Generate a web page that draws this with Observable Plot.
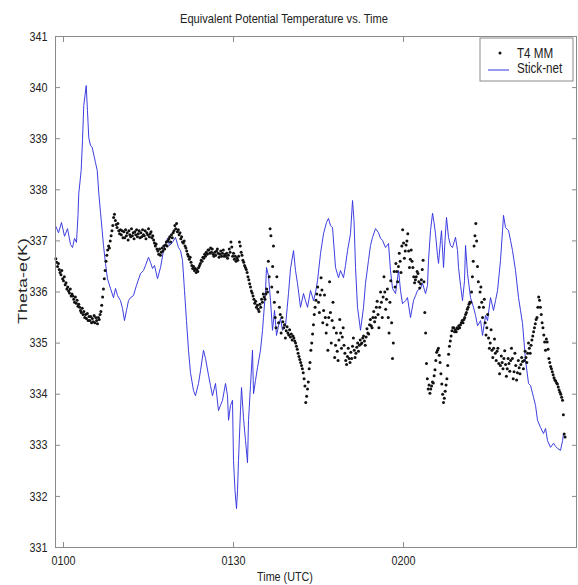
<!DOCTYPE html>
<html>
<head>
<meta charset="utf-8">
<script src="https://cdn.jsdelivr.net/npm/d3@7"></script>
<script src="https://cdn.jsdelivr.net/npm/@observablehq/plot@0.6"></script>
<style>
  html, body { margin: 0; padding: 0; background: #fff; }
  #chart { width: 578px; height: 585px; }
</style>
</head>
<body>
<div id="chart"></div>
<script>
// ---- Data (minutes after 01:00 UTC, theta-e in K) ----
const chartTitle = "Equivalent Potential Temperature vs. Time";
const xLabel = "Time (UTC)";
const yLabel = "Theta-e(K)";
const seriesNames = ["T4 MM", "Stick-net"];

const xTickMinutes = [0, 30, 60];
const xTickLabels = ["0100", "0130", "0200"];
const yTicks = [331, 332, 333, 334, 335, 336, 337, 338, 339, 340, 341];

// T4 mobile mesonet: sampled every 0.15 min starting at -1.35 min
const t4Start = -1.35;
const t4Step = 0.15;
const t4Theta = [
  336.65, 336.58, 336.5, 336.56, 336.44, 336.38, 336.34, 336.42, 336.26, 336.22, 336.3, 336.14, 336.18, 336.06, 336.1, 336.02, 335.98, 336.06, 335.92, 335.96,
  335.92, 335.86, 335.8, 335.9, 335.78, 335.84, 335.72, 335.76, 335.7, 335.64, 335.6, 335.68, 335.56, 335.62, 335.5, 335.56, 335.48, 335.58, 335.44, 335.52,
  335.44, 335.52, 335.4, 335.48, 335.42, 335.54, 335.4, 335.5, 335.44, 335.38, 335.5, 335.46, 335.56, 335.62, 335.74, 335.9, 336.06, 336.26, 336.42, 336.6,
  336.72, 336.82, 336.9, 336.86, 337.0, 337.1, 337.2, 337.3, 337.46, 337.52, 337.4, 337.32, 337.26, 337.34, 337.2, 337.14, 337.22, 337.12, 337.2, 337.06,
  337.18, 337.06, 337.22, 337.1, 337.16, 337.02, 337.2, 337.12, 337.08, 337.24, 337.1, 337.16, 337.04, 337.18, 337.12, 337.22, 337.08, 337.14, 337.2, 337.06,
  337.16, 337.08, 337.22, 337.12, 337.1, 337.2, 337.04, 337.16, 337.12, 337.24, 337.08, 337.14, 337.18, 337.06, 337.1, 337.02, 336.96, 336.9, 336.94, 336.84,
  336.8, 336.74, 336.84, 336.72, 336.78, 336.86, 336.8, 336.9, 336.84, 336.92, 336.98, 336.9, 337.0, 337.04, 337.08, 336.98, 337.12, 337.06, 337.16, 337.2,
  337.3, 337.24, 337.34, 337.18, 337.22, 337.12, 337.16, 337.04, 337.08, 336.98, 336.96, 337.0, 336.9, 336.86, 336.8, 336.74, 336.7, 336.64, 336.68, 336.58,
  336.52, 336.46, 336.5, 336.42, 336.46, 336.38, 336.44, 336.4, 336.48, 336.52, 336.56, 336.62, 336.6, 336.68, 336.66, 336.74, 336.7, 336.78, 336.74, 336.82,
  336.82, 336.76, 336.86, 336.78, 336.84, 336.74, 336.7, 336.78, 336.72, 336.8, 336.84, 336.76, 336.68, 336.74, 336.8, 336.7, 336.76, 336.82, 336.7, 336.74,
  336.7, 336.76, 336.66, 336.72, 336.84, 336.78, 336.98, 336.88, 336.7, 336.76, 336.64, 336.7, 336.6, 336.66, 336.62, 336.7, 336.98, 336.9, 336.78, 336.72,
  336.62, 336.58, 336.52, 336.48, 336.44, 336.38, 336.3, 336.24, 336.16, 336.1, 336.02, 335.98, 335.92, 335.86, 335.78, 335.82, 335.7, 335.74, 335.66, 335.62,
  335.76, 335.7, 335.86, 335.8, 335.96, 335.9, 335.86, 335.96, 336.06, 336.0, 336.6, 336.3, 337.24, 337.1, 336.1, 336.5, 336.9, 335.8, 335.5, 335.3,
  336.3, 336.0, 335.4, 335.7, 335.56, 335.2, 335.5, 335.42, 335.3, 335.36, 335.1, 335.24, 335.32, 335.2, 335.16, 335.26, 335.12, 335.18, 335.06, 335.14,
  335.1, 335.04, 335.0, 334.94, 334.88, 334.8, 334.74, 334.68, 334.62, 334.56, 334.5, 334.42, 334.3, 334.16, 333.84, 333.96, 334.1, 334.24, 334.5, 334.62,
  334.86, 335.0, 335.18, 335.36, 335.56, 335.7, 335.84, 335.96, 336.1, 335.8, 335.6, 335.94, 336.28, 336.04, 335.4, 335.64, 335.94, 335.5, 335.2, 335.36,
  334.86, 335.5, 336.2, 335.6, 335.0, 335.44, 335.8, 335.3, 334.72, 334.96, 335.2, 334.84, 334.66, 335.06, 335.46, 335.2, 334.9, 335.12, 335.3, 334.96,
  334.8, 334.66, 334.58, 334.74, 334.9, 334.7, 334.62, 334.82, 334.7, 334.94, 335.1, 334.86, 334.72, 334.8, 334.92, 335.0, 334.84, 334.96, 335.06, 334.98,
  335.0, 335.1, 335.14, 335.04, 334.96, 335.12, 335.28, 335.2, 335.18, 335.36, 335.46, 335.34, 335.3, 335.5, 335.62, 335.42, 335.5, 335.7, 335.82, 335.56,
  335.3, 335.7, 336.0, 335.8, 335.5, 335.9, 336.3, 336.0, 335.66, 335.86, 336.06, 335.5, 335.2, 335.8, 336.22, 335.4, 334.7, 335.0, 336.4, 336.1,
  336.56, 336.4, 336.2, 336.5, 336.76, 336.6, 336.38, 336.9, 337.22, 336.96, 336.66, 336.8, 336.92, 337.0, 337.14, 336.8, 336.48, 336.64, 336.82, 336.6,
  336.48, 336.3, 336.18, 336.24, 336.3, 336.4, 336.36, 336.2, 336.08, 336.16, 336.24, 336.44, 336.62, 336.2, 335.6, 335.2, 334.6, 334.3, 334.1, 334.18,
  334.02, 334.1, 334.16, 334.24, 334.22, 334.36, 334.48, 334.66, 334.82, 334.86, 334.9, 334.76, 334.62, 334.4, 334.2, 334.0, 333.84, 333.92, 334.06, 334.18,
  334.3, 334.56, 334.78, 334.94, 335.04, 335.14, 335.24, 335.3, 335.3, 335.22, 335.26, 335.22, 335.3, 335.28, 335.34, 335.3, 335.36, 335.4, 335.44, 335.4,
  335.46, 335.5, 335.56, 335.6, 335.66, 335.7, 335.76, 335.8, 335.8, 336.0, 336.3, 336.6, 336.9, 337.1, 337.34, 337.0, 336.5, 336.2, 335.7, 336.0,
  336.1, 335.8, 335.5, 335.7, 335.86, 335.4, 335.16, 335.3, 335.56, 335.1, 334.9, 335.0, 335.26, 334.86, 334.72, 334.9, 335.08, 334.8, 334.66, 334.84,
  334.9, 334.6, 334.4, 334.56, 334.75, 334.62, 334.5, 334.7, 334.85, 334.58, 334.35, 334.5, 334.7, 334.6, 334.45, 334.66, 334.9, 334.7, 334.3, 334.44,
  334.8, 334.56, 334.28, 334.42, 334.66, 334.52, 334.4, 334.58, 334.72, 334.64, 334.5, 334.66, 334.84, 334.72, 334.62, 334.8, 335.0, 334.9, 334.8, 334.96,
  335.06, 335.14, 335.22, 335.3, 335.38, 335.46, 335.5, 335.7, 335.9, 335.84, 335.7, 335.56, 335.4, 335.3, 335.16, 335.02, 334.86, 335.08, 335.02, 334.88,
  334.7, 334.62, 334.54, 334.5, 334.44, 334.38, 334.32, 334.28, 334.26, 334.22, 334.2, 334.14, 334.08, 334.04, 334.0, 333.94, 333.88, 333.6, 333.22, 333.16
];

// Stick-net: time (min after 01:00) and theta-e
const stickTime = [
  -1.41, -0.88, -0.35, 0.18, 0.71, 1.24, 1.59, 1.94, 2.29, 2.56,
  2.70, 3.12, 3.35, 3.58, 4.01, 4.23, 4.46, 4.76, 5.06, 5.38,
  5.65, 5.95, 6.23, 6.53, 6.83, 7.06, 7.41, 7.76, 8.29, 8.82,
  9.18, 9.53, 10.06, 10.41, 10.76, 11.12, 11.47, 11.82, 12.35, 12.88,
  13.59, 14.12, 14.47, 15.0, 15.35, 15.71, 16.06, 16.59, 17.12, 17.65,
  18.0, 18.35, 18.71, 19.23, 19.76, 20.29, 20.65, 21.0, 21.35, 21.7,
  22.06, 22.41, 22.94, 23.29, 23.82, 24.18, 24.7, 25.06, 25.59, 25.94,
  26.29, 26.82, 27.35, 27.7, 28.06, 28.59, 28.94, 29.12, 29.47, 29.82,
  30.0, 30.26, 30.53, 30.71, 30.88, 31.23, 31.41, 31.76, 32.12, 32.47,
  32.65, 33.0, 33.35, 33.53, 33.88, 34.23, 34.76, 35.12, 35.29, 35.65,
  35.82, 36.17, 36.53, 36.88, 37.24, 37.59, 37.94, 38.29, 38.65, 39.18,
  39.7, 40.06, 40.59, 40.94, 41.29, 41.82, 42.35, 42.7, 43.06, 43.59,
  44.12, 44.47, 44.82, 45.35, 45.88, 46.41, 46.76, 47.12, 47.47, 48.0,
  48.53, 48.88, 49.41, 49.76, 50.12, 50.64, 51.0, 51.26, 51.53, 51.88,
  52.41, 52.94, 53.29, 53.82, 54.17, 54.53, 55.06, 55.59, 55.94, 56.29,
  56.82, 57.35, 57.7, 58.06, 58.59, 59.12, 59.47, 59.82, 60.35, 60.7,
  61.23, 61.76, 62.12, 62.47, 63.0, 63.35, 63.88, 64.23, 64.41, 64.76,
  65.12, 65.38, 65.64, 66.0, 66.17, 66.53, 66.7, 67.06, 67.32, 67.58,
  67.94, 68.29, 68.64, 69.17, 69.53, 69.7, 70.06, 70.41, 70.76, 70.94,
  71.29, 71.82, 72.35, 72.71, 73.06, 73.59, 73.94, 74.47, 74.82, 75.35,
  75.88, 76.23, 76.59, 77.11, 77.47, 77.64, 78.0, 78.53, 78.88, 79.23,
  79.76, 80.29, 80.64, 81.0, 81.53, 82.06, 82.41, 82.94, 83.29, 83.64,
  84.17, 84.7, 85.06, 85.41, 85.94, 86.47, 86.82, 87.17, 87.7, 88.06,
  88.23
];
const stickTheta = [
  337.30, 337.16, 337.36, 337.09, 337.24, 336.93, 336.87, 337.05, 336.97, 337.5,
  337.93, 338.38, 338.96, 339.65, 340.04, 339.55, 339.02, 338.87, 338.83, 338.67,
  338.53, 338.38, 337.93, 337.56, 337.2, 336.91, 336.56, 336.26, 336.07, 335.89,
  336.07, 335.93, 335.83, 335.68, 335.44, 335.64, 335.83, 335.89, 335.93, 336.13,
  336.36, 336.42, 336.52, 336.68, 336.58, 336.46, 336.52, 336.26, 336.48, 336.81,
  336.93, 337.05, 336.91, 336.97, 337.07, 336.87, 336.81, 336.62, 336.03, 335.44,
  334.86, 334.42, 334.07, 333.97, 334.21, 334.46, 334.86, 334.7, 334.37, 334.17,
  333.97, 334.21, 333.68, 333.78, 333.88, 334.21, 333.97, 333.49, 333.78, 333.88,
  332.7, 332.12, 331.76, 332.12, 332.7, 333.68, 334.13, 333.54, 333.09, 332.66,
  333.49, 334.17, 334.86, 334.01, 334.27, 334.52, 334.86, 335.25, 335.5, 336.03,
  336.48, 336.32, 335.83, 335.25, 335.64, 335.15, 335.34, 335.48, 335.25, 335.34,
  335.97, 336.46, 336.81, 336.42, 336.17, 335.7, 335.97, 335.83, 335.7, 336.03,
  335.83, 335.99, 336.22, 336.75, 337.14, 337.36, 337.44, 337.3, 337.26, 336.48,
  336.28, 336.42, 336.28, 336.52, 336.81, 337.14, 337.79, 337.4, 336.48, 335.7,
  335.25, 335.7, 336.17, 336.62, 336.91, 337.07, 337.24, 337.16, 337.05, 337.01,
  336.87, 336.95, 336.42, 336.07, 335.97, 336.42, 336.03, 335.77, 335.83, 335.89,
  335.5, 335.83, 335.93, 336.03, 336.07, 336.17, 335.97, 336.13, 336.62, 337.2,
  337.54, 337.36, 337.14, 336.71, 336.56, 337.01, 337.2, 336.48, 337.01, 337.46,
  337.07, 336.91, 336.87, 337.07, 336.81, 336.48, 336.13, 335.83, 336.22, 336.91,
  336.36, 335.89, 335.7, 335.54, 335.34, 335.44, 335.15, 335.54, 335.44, 335.89,
  335.64, 335.83, 336.03, 336.62, 337.2, 337.5, 337.26, 337.2, 337.01, 336.81,
  336.42, 335.89, 335.64, 335.38, 334.66, 334.21, 334.17, 333.94, 333.78, 333.49,
  333.35, 333.23, 333.33, 333.09, 332.96, 333.04, 332.98, 332.94, 332.9, 333.09,
  333.23
];

// ---- Build tables ----
const t4 = t4Theta.map((v, i) => ({t: t4Start + i * t4Step, v}));
const stick = stickTime.map((t, i) => ({t, v: stickTheta[i]}));

const W = 578, H = 585;
const mL = 55, mR = 2, mT = 36, mB = 38;
const font = "'Liberation Sans', Arial, sans-serif";
const frameColor = "#8a8a8a";
const textColor = "#222";
const blue = "#3434de";

const plot = Plot.plot({
  width: W,
  height: H,
  marginLeft: mL, marginRight: mR, marginTop: mT, marginBottom: mB,
  style: {fontFamily: font, fontSize: "13px", color: textColor, background: "#fff"},
  x: {domain: [-1.41, 90.52], label: null},
  y: {domain: [331, 341], label: null},
  marks: [
    Plot.line(stick, {x: "t", y: "v", stroke: blue, strokeWidth: 0.95}),
    Plot.dot(t4, {x: "t", y: "v", r: 1.5, fill: "#111", stroke: null}),
    Plot.frame({stroke: frameColor}),
    Plot.axisY({ticks: yTicks, tickSize: -5, tickPadding: 13, stroke: frameColor, fill: textColor, fontSize: 13, label: null}),
    Plot.axisY({anchor: "right", ticks: yTicks, tickSize: -5, tickFormat: () => "", stroke: frameColor, label: null}),
    Plot.axisX({ticks: xTickMinutes, tickSize: -5, tickPadding: 13, stroke: frameColor, fill: textColor, fontSize: 13, label: null,
      tickFormat: (d) => xTickLabels[xTickMinutes.indexOf(d)]}),
    Plot.axisX({anchor: "top", ticks: xTickMinutes, tickSize: -5, tickFormat: () => "", stroke: frameColor, label: null})
  ]
});

const svg = d3.select(plot);
// Title
svg.append("text").attr("x", 284).attr("y", 23).attr("text-anchor", "middle").attr("data-squeeze", 0.855)
  .attr("font-family", font).attr("font-size", 13).attr("fill", textColor).text(chartTitle);
// X label
svg.append("text").attr("x", 285).attr("y", 581).attr("text-anchor", "middle")
  .attr("font-family", font).attr("font-size", 13).attr("fill", textColor).text(xLabel);
// Y label (horizontally squeezed glyphs, i.e. thinner across the rotated text)
svg.append("text").attr("transform", "translate(27,281) scale(0.76,1) rotate(-90)")
  .attr("text-anchor", "middle").attr("data-squeeze", 1)
  .attr("font-family", font).attr("font-size", 18).attr("fill", textColor).text(yLabel);

// Legend
const lg = svg.append("g");
lg.append("rect").attr("x", 480).attr("y", 38).attr("width", 93).attr("height", 43)
  .attr("fill", "#fff").attr("stroke", frameColor);
lg.append("circle").attr("cx", 500).attr("cy", 53).attr("r", 1.5).attr("fill", "#111");
lg.append("text").attr("x", 517).attr("y", 58).attr("text-anchor", "start")
  .attr("font-family", font).attr("font-size", 14).attr("fill", textColor).text(seriesNames[0]);
lg.append("line").attr("x1", 488).attr("x2", 509).attr("y1", 70).attr("y2", 70)
  .attr("stroke", blue).attr("stroke-width", 1);
lg.append("text").attr("x", 517).attr("y", 73).attr("text-anchor", "start")
  .attr("font-family", font).attr("font-size", 14).attr("fill", textColor).text(seriesNames[1]);

document.getElementById("chart").appendChild(plot);

// The reference uses a condensed face: compress labels horizontally.
svg.selectAll("text").each(function () {
  const f = this.hasAttribute("data-squeeze") ? +this.getAttribute("data-squeeze") : 0.83;
  if (f === 1) return;
  const L = this.getComputedTextLength();
  if (L > 0) {
    this.setAttribute("textLength", (L * f).toFixed(1));
    this.setAttribute("lengthAdjust", "spacingAndGlyphs");
  }
});
</script>
</body>
</html>
